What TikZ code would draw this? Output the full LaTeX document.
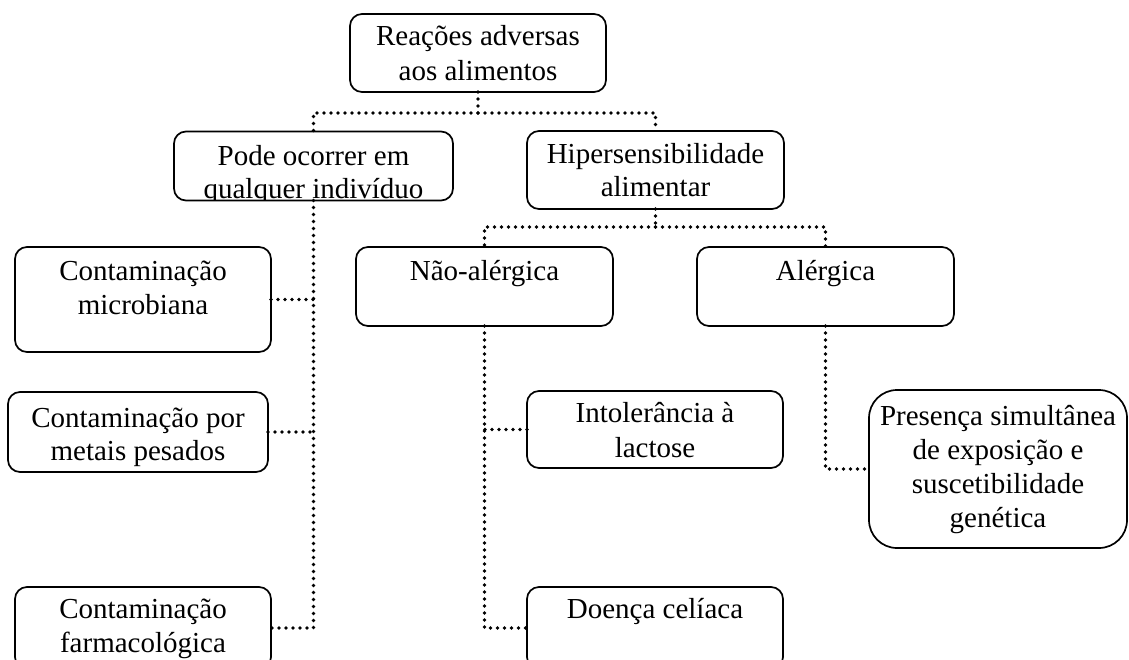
\documentclass[tikz,border=0pt]{standalone}
\usepackage{fontspec}
\setmainfont{Liberation Serif}
\begin{document}
\begin{tikzpicture}[x=1pt,y=-1pt,
  box/.style={draw, line width=1.7pt, rounded corners=12pt, inner sep=0pt, outer sep=0pt},
  bigbox/.style={box, rounded corners=28pt},
  txt/.style={inner sep=0pt, anchor=base, font=\fontsize{29}{34}\selectfont},
  conn/.style={line width=3.6pt, line cap=round, dash pattern=on 0pt off 7pt}]
\useasboundingbox (0,0) rectangle (1129,659);

% boxes
\node[box, minimum width=256pt, minimum height=78pt] (top) at (478,53) {};
\node[box, minimum width=279pt, minimum height=69pt] (pode) at (313.5,166) {};
\node[box, minimum width=257pt, minimum height=78pt] (hip) at (655.5,170) {};
\node[box, minimum width=256pt, minimum height=105pt] (mic) at (143,299.5) {};
\node[box, minimum width=260pt, minimum height=80pt] (met) at (138,432) {};
\node[box, minimum width=256pt, minimum height=82pt] (far) at (143,628) {};
\node[box, minimum width=257pt, minimum height=79pt] (nao) at (484.5,286.5) {};
\node[box, minimum width=257pt, minimum height=79pt] (ale) at (825.5,286.5) {};
\node[box, minimum width=256pt, minimum height=77pt] (intol) at (655,429.5) {};
\node[box, minimum width=256pt, minimum height=82pt] (cel) at (655,628) {};
\node[bigbox, minimum width=258pt, minimum height=158pt] (pres) at (998,469) {};

% labels
\node[txt] (top1) at (478,45) {Reações adversas};
\node[txt] (top2) at (478,80) {aos alimentos};
\begin{scope}
  \clip (pode.south west) rectangle (pode.north east);
  \node[txt] (pode1) at (313.5,165) {Pode ocorrer em};
  \node[txt] (pode2) at (313.5,198) {qualquer indivíduo};
\end{scope}
\node[txt] (hip1) at (655.5,163) {Hipersensibilidade};
\node[txt] (hip2) at (655.5,196) {alimentar};
\node[txt] (mic1) at (143,280) {Contaminação};
\node[txt] (mic2) at (143,314) {microbiana};
\node[txt] (met1) at (138,427) {Contaminação por};
\node[txt] (met2) at (138,460) {metais pesados};
\node[txt] (far1) at (143,618) {Contaminação};
\node[txt] (far2) at (143,652) {farmacológica};
\node[txt] (nao1) at (484.5,280) {Não-alérgica};
\node[txt] (ale1) at (825.5,280) {Alérgica};
\node[txt] (intol1) at (655,422) {Intolerância à};
\node[txt] (intol2) at (655,457) {lactose};
\node[txt] (cel1) at (655,618) {Doença celíaca};
\node[txt] (pres1) at (998,425) {Presença simultânea};
\node[txt] (pres2) at (998,459) {de exposição e};
\node[txt] (pres3) at (998,493) {suscetibilidade};
\node[txt] (pres4) at (998,527) {genética};

% connectors
\coordinate (b1) at (478,113);
\coordinate (b2) at (655.5,227);
\draw[conn] (top.south) -- (b1);
\draw[conn] (b1) -| (pode.north);
\draw[conn] (b1) -| (hip.north);
\draw[conn] (pode.south) |- (far.east);
\draw[conn] (mic.east) -- (mic.east -| pode.south);
\draw[conn] (met.east) -- (met.east -| pode.south);
\draw[conn] (hip.south) -- (b2);
\draw[conn] (b2) -| (nao.north);
\draw[conn] (b2) -| (ale.north);
\draw[conn] (nao.south) |- (cel.west);
\draw[conn] (intol.west) -- (intol.west -| nao.south);
\draw[conn] (ale.south) |- (pres.west);
\end{tikzpicture}
\end{document}
